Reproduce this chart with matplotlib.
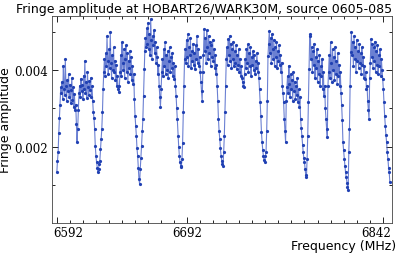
import numpy as np
import matplotlib
matplotlib.use("Agg")
import matplotlib.pyplot as plt
import matplotlib.transforms as mtransforms
from matplotlib.ticker import FixedLocator, MultipleLocator

# Start frequency of each 16 MHz sub-band (MHz), 32 channels each
band_starts = [6592, 6608, 6624, 6640, 6656, 6672, 6688, 6704,
               6720, 6736, 6752, 6768, 6784, 6800, 6816, 6832]
chan_width = 0.5

# Fringe amplitude per sub-band, in units of 1e-3
band01 = [1.33, 1.62, 1.85, 2.35, 2.75, 3.10, 3.55, 3.40, 3.70, 3.25, 4.12, 3.52, 3.35, 4.29, 3.60, 3.20,
          3.75, 3.45, 3.90, 3.30, 3.62, 3.15, 3.48, 3.80, 3.22, 3.55, 3.05, 3.38, 2.95, 3.10, 2.60, 2.12]
band02 = [2.46, 2.95, 3.40, 3.60, 3.30, 3.78, 3.45, 3.62, 3.25, 3.86, 3.50, 4.25, 3.40, 3.70, 3.28, 3.95,
          3.55, 3.35, 3.72, 3.48, 3.80, 3.30, 3.58, 3.20, 2.90, 2.75, 2.46, 2.02, 1.76, 1.59, 1.45, 1.33]
band03 = [1.41, 1.55, 1.63, 1.94, 2.20, 2.46, 2.90, 3.51, 3.95, 4.30, 3.85, 4.45, 4.10, 4.90, 4.25, 3.90,
          4.55, 4.05, 5.00, 4.20, 3.80, 4.40, 4.00, 4.60, 3.95, 4.25, 3.75, 4.15, 3.60, 3.85, 3.50, 3.42]
band04 = [3.60, 3.95, 4.40, 3.85, 4.73, 4.20, 4.00, 4.55, 3.80, 4.30, 4.65, 3.95, 4.45, 3.70, 4.25, 4.05,
          4.50, 3.90, 4.35, 3.75, 4.10, 3.65, 3.90, 3.25, 2.81, 2.55, 2.29, 1.95, 1.76, 1.45, 1.15, 1.02]
band05 = [1.41, 1.70, 2.02, 2.40, 2.72, 3.33, 4.03, 4.50, 4.85, 4.60, 5.10, 4.70, 5.25, 4.55, 4.95, 4.40,
          5.34, 4.80, 4.30, 4.90, 4.65, 5.05, 4.45, 4.75, 4.20, 4.60, 4.35, 3.90, 4.15, 3.60, 3.30, 3.03]
band06 = [3.50, 3.95, 4.30, 3.85, 4.55, 4.10, 4.73, 3.90, 4.40, 4.00, 4.50, 3.80, 4.25, 4.60, 3.95, 4.35,
          4.05, 4.45, 3.85, 4.20, 3.77, 4.10, 3.60, 3.33, 3.00, 2.72, 2.29, 2.00, 1.76, 1.59, 1.50, 1.46]
band07 = [1.68, 2.10, 2.90, 3.60, 4.29, 4.55, 4.20, 4.80, 4.35, 4.95, 4.10, 4.60, 4.40, 4.85, 4.05, 4.50,
          4.25, 4.70, 4.15, 4.45, 4.03, 4.65, 4.30, 4.90, 4.20, 4.55, 4.10, 4.35, 3.95, 3.70, 3.45, 3.20]
band08 = [3.95, 4.40, 5.08, 4.50, 4.85, 4.20, 5.05, 4.60, 4.30, 4.90, 4.45, 4.75, 4.10, 4.65, 4.35, 4.80,
          4.25, 4.55, 4.05, 4.40, 3.90, 4.15, 3.60, 3.20, 2.72, 2.40, 2.20, 1.95, 1.76, 1.63, 1.55, 1.50]
band09 = [1.85, 2.29, 2.90, 3.60, 4.29, 4.60, 4.15, 4.82, 4.40, 4.90, 4.25, 4.70, 4.05, 4.55, 4.30, 4.75,
          4.10, 4.50, 4.20, 4.65, 4.03, 4.40, 4.15, 4.55, 3.95, 4.30, 3.85, 4.10, 3.80, 3.70, 3.60, 3.55]
band10 = [3.90, 4.30, 4.05, 4.55, 4.20, 4.68, 3.95, 4.45, 4.10, 4.60, 3.86, 4.35, 4.15, 4.50, 4.00, 4.40,
          3.90, 4.25, 4.05, 4.45, 3.95, 4.20, 3.80, 3.50, 3.16, 2.80, 2.37, 2.11, 1.90, 1.75, 1.65, 1.59]
band11 = [1.75, 1.85, 2.40, 3.20, 4.38, 4.70, 5.03, 4.45, 4.85, 4.20, 4.95, 4.55, 4.30, 4.80, 4.10, 4.60,
          4.35, 4.75, 4.05, 4.50, 4.25, 4.65, 4.15, 4.40, 3.95, 4.20, 3.60, 3.40, 3.16, 2.72, 2.40, 2.11]
band12 = [3.20, 3.55, 3.85, 3.40, 4.12, 3.65, 3.30, 3.90, 3.50, 3.75, 3.20, 3.95, 3.45, 3.70, 3.25, 3.60,
          3.35, 3.80, 3.16, 3.50, 3.05, 3.30, 2.72, 2.50, 2.29, 2.05, 1.85, 1.70, 1.59, 1.40, 1.25, 1.19]
band13 = [1.68, 2.29, 3.16, 4.03, 4.90, 4.95, 4.30, 4.60, 3.95, 4.50, 4.15, 4.70, 3.80, 4.35, 4.05, 4.55,
          3.70, 4.25, 3.90, 4.40, 3.60, 4.10, 3.85, 4.30, 3.51, 3.95, 3.33, 3.60, 3.00, 2.72, 2.45, 2.24]
band14 = [3.60, 3.95, 4.40, 3.80, 4.73, 4.20, 3.70, 4.55, 4.00, 4.35, 3.75, 4.60, 3.90, 4.25, 3.65, 4.45,
          3.85, 4.15, 3.60, 3.95, 3.40, 3.10, 2.70, 2.11, 1.90, 1.68, 1.50, 1.33, 1.20, 1.05, 0.95, 0.85]
band15 = [1.85, 2.46, 3.60, 4.47, 4.99, 4.40, 4.75, 4.10, 4.90, 4.30, 4.60, 3.95, 4.80, 4.25, 4.50, 4.05,
          4.70, 4.20, 4.45, 3.90, 4.60, 4.15, 4.35, 3.80, 4.10, 3.77, 3.95, 3.50, 3.60, 3.20, 2.95, 2.72]
band16 = [3.80, 4.20, 4.82, 4.35, 4.70, 4.05, 4.60, 4.25, 4.75, 3.95, 4.50, 4.15, 4.65, 3.90, 4.40, 4.10,
          4.55, 3.85, 4.30, 4.00, 3.77, 3.50, 3.16, 2.80, 2.55, 2.30, 2.11, 1.85, 1.68, 1.45, 1.33, 1.06]

bands = [band01, band02, band03, band04, band05, band06, band07, band08,
         band09, band10, band11, band12, band13, band14, band15, band16]

xticks_major = [6592, 6692, 6842]
yticks_major = [0.002, 0.004]
yticks_minor = [0.001, 0.003, 0.005]

freq = np.concatenate([s + chan_width * np.arange(len(b)) for s, b in zip(band_starts, bands)])
amp = np.concatenate([np.array(b) for b in bands]) * 1e-3

fig = plt.figure(figsize=(3.99, 2.55), dpi=100)
ax = fig.add_axes([0.130, 0.122, 0.852, 0.811])

ax.plot(freq, amp, '-', color='#3a56c4', lw=0.8, alpha=0.75)
ax.plot(freq, amp, 'o', color='#2141b3', ms=2.3, mew=0)

ax.set_xlim(6588.2, 6849)
ax.set_ylim(0, 0.00542)

ax.xaxis.set_major_locator(FixedLocator(xticks_major))
ax.xaxis.set_minor_locator(MultipleLocator(10, offset=2))
ax.yaxis.set_major_locator(FixedLocator(yticks_major))
ax.yaxis.set_minor_locator(FixedLocator(yticks_minor))
ax.set_xticklabels([str(v) for v in xticks_major], family='DejaVu Serif', fontsize=8.5)
ax.set_yticklabels(['%.3f' % v for v in yticks_major], family='DejaVu Serif', fontsize=8.5)

ax.tick_params(which='both', direction='in', top=True, right=True, width=0.6)
ax.tick_params(which='major', length=4)
ax.tick_params(which='minor', length=2.5)
ax.tick_params(axis='x', pad=2)
ax.tick_params(axis='y', pad=3)

# keep the edge labels inside the axes like the original
labs = ax.get_xticklabels()
labs[0].set_ha('left')
labs[0].set_transform(labs[0].get_transform() + mtransforms.ScaledTranslation(-0.04, 0, fig.dpi_scale_trans))
labs[-1].set_ha('right')
labs[-1].set_transform(labs[-1].get_transform() + mtransforms.ScaledTranslation(0.085, 0, fig.dpi_scale_trans))

for sp in ax.spines.values():
    sp.set_linewidth(0.6)
    sp.set_color('#444444')

ax.set_title('Fringe amplitude at HOBART26/WARK30M, source 0605-085', fontsize=9, loc='right', pad=3)
ax.set_xlabel('Frequency (MHz)', fontsize=9)
ax.xaxis.set_label_coords(1.012, -0.078)
ax.xaxis.label.set_ha('right')
ax.set_ylabel('Fringe amplitude', fontsize=9)
ax.yaxis.set_label_coords(-0.118, 0.5)

fig.savefig('out.png', dpi=100)
